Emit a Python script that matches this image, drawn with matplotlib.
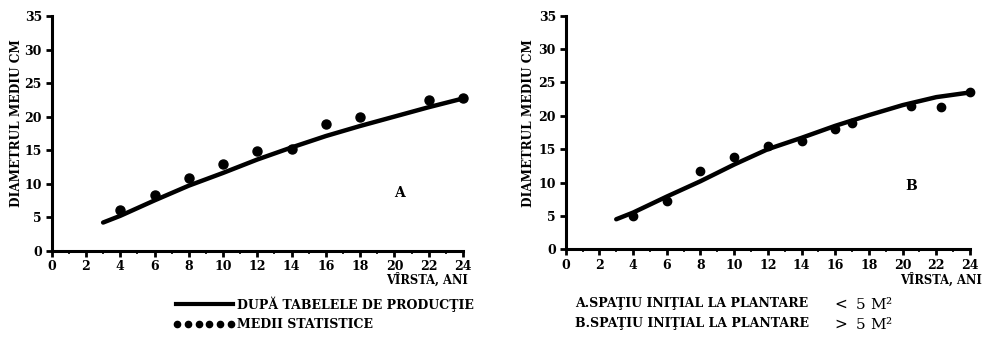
import matplotlib
matplotlib.use("Agg")
import matplotlib.pyplot as plt
import numpy as np

# ---- data ----
ages_line_A = [3, 4, 6, 8, 10, 12, 14, 16, 18, 20, 22, 24]
diam_line_A = [4.2, 5.2, 7.5, 9.7, 11.6, 13.6, 15.4, 17.1, 18.6, 20.0, 21.4, 22.7]
ages_dots_A = [4, 6, 8, 10, 12, 14, 16, 18, 22, 24]
diam_dots_A = [6.0, 8.3, 10.8, 12.9, 14.9, 15.2, 18.9, 20.0, 22.5, 22.8]

ages_line_B = [3, 4, 6, 8, 10, 12, 14, 16, 18, 20, 22, 24]
diam_line_B = [4.5, 5.5, 7.9, 10.2, 12.7, 15.0, 16.7, 18.5, 20.1, 21.6, 22.8, 23.5]
ages_dots_B = [4, 6, 8, 10, 12, 14, 16, 17, 20.5, 22.3, 24]
diam_dots_B = [5.0, 7.3, 11.7, 13.9, 15.5, 16.2, 18.0, 18.9, 21.5, 21.3, 23.5]

xticks = list(range(0, 25, 2))
yticks = list(range(0, 36, 5))

W, H = 991, 340
fig = plt.figure(figsize=(W / 100, H / 100), dpi=100)
fig.patch.set_facecolor("white")

FONT = "DejaVu Serif"

def px_axes(x0, x1, y0, y1):
    return fig.add_axes([x0 / W, 1 - y1 / H, (x1 - x0) / W, (y1 - y0) / H])

def style(ax):
    ax.set_xlim(0, 24)
    ax.set_ylim(0, 35)
    for s in ["top", "right"]:
        ax.spines[s].set_visible(False)
    for s in ["left", "bottom"]:
        ax.spines[s].set_linewidth(2.2)
        ax.spines[s].set_color("black")
    ax.set_xticks(xticks)
    ax.set_yticks(yticks)
    ax.set_xticks(np.arange(0, 25, 1), minor=True)
    ax.tick_params(axis="both", which="major", length=4, width=2, direction="out",
                   labelsize=9, pad=3)
    ax.tick_params(axis="x", which="minor", length=2, width=1.2)
    for lab in ax.get_xticklabels() + ax.get_yticklabels():
        lab.set_fontfamily(FONT)
        lab.set_fontweight("bold")
    ax.patch.set_alpha(0)

axA = px_axes(51.7, 463, 16, 250.7)
style(axA)
axA.plot(ages_line_A, diam_line_A, color="black", lw=3.2, solid_capstyle="round", zorder=3)
axA.plot(ages_dots_A, diam_dots_A, "o", color="black", ms=6.5, zorder=4, clip_on=False)
axA.text(20.3, 8.6, "A", fontfamily=FONT, fontweight="bold", fontsize=10, ha="center", va="center")

axB = px_axes(565.7, 970, 15.7, 249.3)
style(axB)
axB.plot(ages_line_B, diam_line_B, color="black", lw=3.2, solid_capstyle="round", zorder=3)
axB.plot(ages_dots_B, diam_dots_B, "o", color="black", ms=6, zorder=4, clip_on=False)
axB.text(20.5, 9.5, "B", fontfamily=FONT, fontweight="bold", fontsize=10, ha="center", va="center")

# axis labels
for xc in (17, 529):
    fig.text(xc / W, 1 - 123 / H, "DIAMETRUL MEDIU CM", rotation=90, ha="center", va="center",
             fontfamily=FONT, fontweight="bold", fontsize=8.7)
fig.text(468 / W, 1 - 280 / H, "VÎRSTA, ANI", ha="right", va="center",
         fontfamily=FONT, fontweight="bold", fontsize=8.3)
fig.text(982 / W, 1 - 280 / H, "VÎRSTA, ANI", ha="right", va="center",
         fontfamily=FONT, fontweight="bold", fontsize=8.3)

# legend left
fig.add_artist(plt.Line2D([176 / W, 233 / W], [1 - 304 / H, 1 - 304 / H], color="black", lw=3))
fig.text(237 / W, 1 - 304 / H, "DUPĂ TABELELE DE PRODUCŢIE", ha="left", va="center",
         fontfamily=FONT, fontweight="bold", fontsize=9)
dx = np.linspace(177, 231, 6)
fig.add_artist(plt.Line2D(dx / W, [1 - 324 / H] * 6, color="black", lw=0, marker="o", ms=4.5))
fig.text(237 / W, 1 - 324 / H, "MEDII STATISTICE", ha="left", va="center",
         fontfamily=FONT, fontweight="bold", fontsize=9)

# legend right
fig.text(575 / W, 1 - 304 / H, "A.SPAŢIU INIŢIAL LA PLANTARE", ha="left", va="center",
         fontfamily=FONT, fontweight="bold", fontsize=9)
fig.text(832 / W, 1 - 304 / H, "$<$ 5 M²", ha="left", va="center",
         fontfamily=FONT, fontsize=11)
fig.text(575 / W, 1 - 324 / H, "B.SPAŢIU INIŢIAL LA PLANTARE", ha="left", va="center",
         fontfamily=FONT, fontweight="bold", fontsize=9)
fig.text(832 / W, 1 - 324 / H, "$>$ 5 M²", ha="left", va="center",
         fontfamily=FONT, fontsize=11)

fig.savefig("out.png", dpi=100, facecolor="white")
